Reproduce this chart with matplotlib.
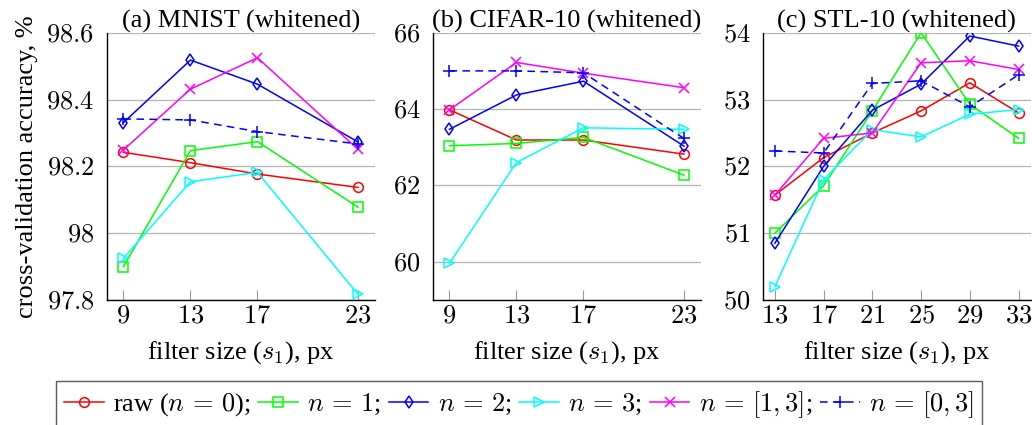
import numpy as np
import matplotlib
matplotlib.use("Agg")
from matplotlib import pyplot as plt

plt.rcParams["font.family"] = ["Liberation Serif", "DejaVu Serif"]
plt.rcParams["mathtext.fontset"] = "cm"

# filter sizes per dataset
mnist_x = [9, 13, 17, 23]
cifar_x = [9, 13, 17, 23]
stl_x = [13, 17, 21, 25, 29, 33]

# cross-validation accuracy, %
mnist_raw = [98.242, 98.211, 98.177, 98.137]
mnist_n1 = [97.900, 98.247, 98.274, 98.078]
mnist_n2 = [98.331, 98.518, 98.446, 98.273]
mnist_n3 = [97.925, 98.154, 98.182, 97.817]
mnist_n13 = [98.249, 98.431, 98.525, 98.251]
mnist_n03 = [98.342, 98.339, 98.304, 98.267]

cifar_raw = [63.98, 63.19, 63.19, 62.82]
cifar_n1 = [63.04, 63.10, 63.26, 62.27]
cifar_n2 = [63.47, 64.37, 64.73, 63.03]
cifar_n3 = [59.96, 62.60, 63.51, 63.47]
cifar_n13 = [63.98, 65.22, 64.94, 64.56]
cifar_n03 = [65.00, 65.00, 64.95, 63.23]

stl_raw = [51.57, 52.13, 52.50, 52.83, 53.25, 52.80]
stl_n1 = [51.00, 51.71, 52.83, 54.00, 52.93, 52.42]
stl_n2 = [50.85, 52.00, 52.84, 53.23, 53.95, 53.80]
stl_n3 = [50.20, 51.80, 52.55, 52.44, 52.78, 52.85]
stl_n13 = [51.57, 52.42, 52.50, 53.55, 53.58, 53.45]
stl_n03 = [52.23, 52.20, 53.24, 53.28, 52.89, 53.37]

mnist_yticks = [97.8, 98, 98.2, 98.4, 98.6]
cifar_yticks = [60, 62, 64, 66]
stl_yticks = [50, 51, 52, 53, 54]

titles = ["(a) MNIST (whitened)", "(b) CIFAR-10 (whitened)", "(c) STL-10 (whitened)"]
labels = ["raw ($n\\,=\\,0$);", "$n\\,=\\,1$;", "$n\\,=\\,2$;", "$n\\,=\\,3$;",
          "$n\\,=\\,[1,3]$;", "$n\\,=\\,[0,3]$"]

styles = [
    dict(color="red", marker="o"),
    dict(color="lime", marker="s"),
    dict(color="blue", marker="d", markersize=6),
    dict(color="cyan", marker=">"),
    dict(color="magenta", marker="x"),
    dict(color="blue", marker="+", linestyle=(0, (5, 3.5)), markersize=9),
]

panels = [
    (mnist_x, [mnist_raw, mnist_n1, mnist_n2, mnist_n3, mnist_n13, mnist_n03], mnist_yticks, (8, 24)),
    (cifar_x, [cifar_raw, cifar_n1, cifar_n2, cifar_n3, cifar_n13, cifar_n03], cifar_yticks, (8, 24)),
    (stl_x, [stl_raw, stl_n1, stl_n2, stl_n3, stl_n13, stl_n03], stl_yticks, (12, 34)),
]
ylims = [(97.8, 98.6), (59, 66), (50, 54)]

W, H = 1032, 425
fig = plt.figure(figsize=(W / 100, H / 100), dpi=100)
lefts = [106.7, 432.7, 762.7]
FS = 19

handles = []
for i, (xs, series, yticks, xlim) in enumerate(panels):
    ax = fig.add_axes([lefts[i] / W, 1 - 300 / H, 268 / W, 267.3 / H])
    for ys, st in zip(series, styles):
        kw = dict(linewidth=1.1, markersize=7, markerfacecolor="none", markeredgewidth=1.1)
        kw.update(st)
        line, = ax.plot(xs, ys, **kw)
        if i == 0:
            handles.append(line)
    ax.set_xlim(*xlim)
    ax.set_ylim(*ylims[i])
    ax.set_xticks(xs)
    ax.set_xticklabels([f"${v}$" for v in xs], fontsize=FS)
    ax.set_yticks(yticks)
    ax.set_yticklabels([f"${v:g}$" for v in yticks], fontsize=FS)
    ax.yaxis.grid(True, color="#b5b5b5", linewidth=0.9)
    ax.set_axisbelow(True)
    ax.tick_params(direction="in", length=7, width=0.8, color="#9a9a9a", pad=4)
    ax.tick_params(axis="y", length=0, pad=9)
    for s in ["top", "right"]:
        ax.spines[s].set_visible(False)
    for s in ["left", "bottom"]:
        ax.spines[s].set_linewidth(1.0)
    ax.set_title(titles[i], fontsize=FS, pad=3)
    ax.set_xlabel("filter size ($s_1$), px", fontsize=FS, labelpad=8)
    if i == 0:
        ax.set_ylabel("cross-validation accuracy, %", fontsize=FS, labelpad=6)

leg = fig.legend(handles, labels, loc="upper center", bbox_to_anchor=(0.503, 1 - 381 / H),
                 ncol=6, fontsize=FS, frameon=True, fancybox=False, edgecolor="#333333",
                 handlelength=1.5, handletextpad=0.35, columnspacing=0.3, borderpad=0.3,
                 borderaxespad=0)
leg.get_frame().set_linewidth(1.0)

fig.savefig("out.png", dpi=100)
